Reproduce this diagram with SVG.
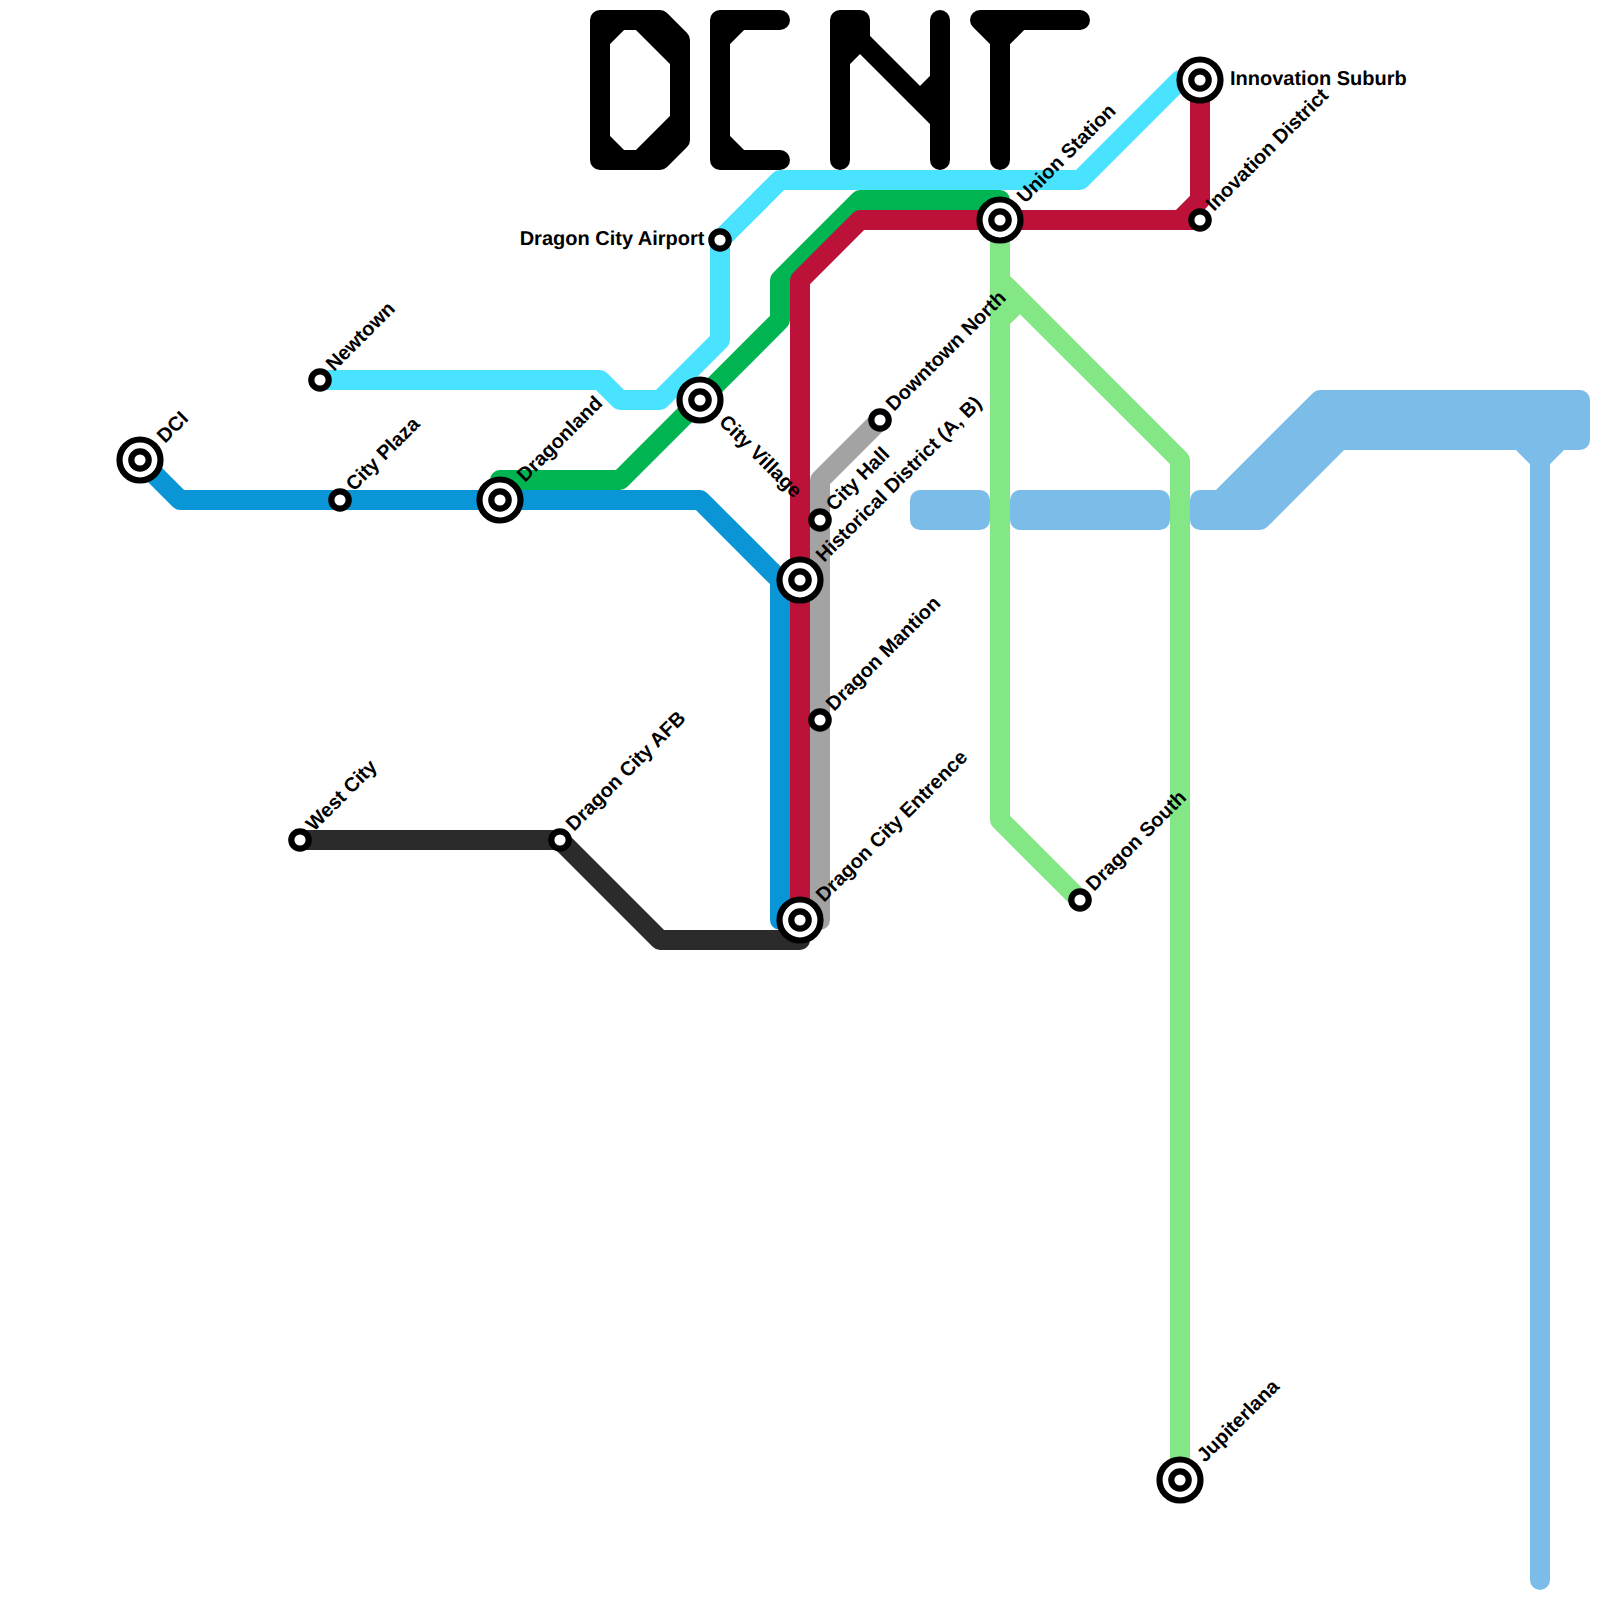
<svg xmlns="http://www.w3.org/2000/svg" width="1600" height="1600" viewBox="0 0 1600 1600">
<style>
.l{fill:none;stroke-width:20;stroke-linejoin:round;stroke-linecap:round}
.b{fill:none;stroke-width:20;stroke-linejoin:round;stroke-linecap:butt}
.k{stroke:#000}.p{stroke:#7bbde8}.c{stroke:#4ae3ff}.g{stroke:#00b451}.r{stroke:#bc1138}.u{stroke:#0a96d6}.y{stroke:#a3a3a3}.d{stroke:#2b2b2b}.m{stroke:#84e786}
.o{fill:#fff;stroke:#000;stroke-width:6.2}
.i{fill:#fff;stroke:#000;stroke-width:6.2}
.pf{fill:#7bbde8}
text{font-family:"Liberation Sans",Arial,sans-serif;font-size:20px;font-weight:700;fill:#000;text-rendering:geometricPrecision}
</style>
<rect width="1600" height="1600" fill="#fff"/>
<g id="logo">
<path class="l k" d="M600 20H660L680 40V140L660 160H600ZM600 40L620 20M640 20L680 60M680 120L640 160M600 140L620 160"/>
<path class="l k" d="M780 20H720V160H780M720 40L740 20M720 140L740 160"/>
<path class="l k" d="M840 160V20H860V40L940 120M840 60L860 40M940 20V160M940 80L920 100"/>
<path class="l k" d="M980 20H1080M980 20L1000 40V160M1000 40L1020 20"/>
</g>
<g id="connectors">
<rect class="pf" x="910" y="490" width="80" height="40" rx="10"/>
<rect class="pf" x="1010" y="490" width="160" height="40" rx="10"/>
<path class="l p" style="fill:#7bbde8" d="M1200 500H1220L1320 400H1580V440H1560L1540 460L1520 440H1340L1260 520H1200Z"/>
<path class="l p" d="M1540 460V1580"/>
<path class="l c" d="M320 380H600L620 400H660L720 340V240L780 180H1080L1180 80H1200"/>
<path class="l g" d="M500 500V480H620L780 320V280L860 200H1000V220"/>
<path class="l u" d="M140 460L180 500H700L780 580V920H800"/>
<path class="l y" d="M880 420L820 480V920H800"/>
<path class="l r" d="M800 920V280L860 220H1200M1200 80V200L1180 220"/>
<path class="l d" d="M300 840H560L660 940H800V920"/>
<path class="b m" d="M1000 220V320L1020 300"/>
<path class="l m" d="M1000 240V820L1080 900"/>
<path class="l m" d="M1000 280L1180 460V1480"/>
</g>
<g id="dci"><circle class="o" cx="140" cy="460" r="20.5"/><circle class="i" cx="140" cy="460" r="8.7"/><text transform="translate(165 444) rotate(-45)">DCI</text></g>
<g id="city-plaza"><circle class="i" cx="340" cy="500" r="8.7"/><text transform="translate(354 492) rotate(-45)">City Plaza</text></g>
<g id="dragonland"><circle class="o" cx="500" cy="500" r="20.5"/><circle class="i" cx="500" cy="500" r="8.7"/><text transform="translate(525 483) rotate(-45)">Dragonland</text></g>
<g id="newtown"><circle class="i" cx="320" cy="380" r="8.7"/><text transform="translate(334 372) rotate(-45)">Newtown</text></g>
<g id="city-village"><circle class="o" cx="700" cy="400" r="20.5"/><circle class="i" cx="700" cy="400" r="8.7"/><text transform="translate(718 423) rotate(45)">City Village</text></g>
<g id="airport"><circle class="i" cx="720" cy="240" r="8.7"/><text x="704.5" y="245" text-anchor="end">Dragon City Airport</text></g>
<g id="union"><circle class="o" cx="1000" cy="220" r="20.5"/><circle class="i" cx="1000" cy="220" r="8.7"/><text transform="translate(1025 204) rotate(-45)">Union Station</text></g>
<g id="innovation-suburb"><circle class="o" cx="1200" cy="80" r="20.5"/><circle class="i" cx="1200" cy="80" r="8.7"/><text x="1230" y="85">Innovation Suburb</text></g>
<g id="inovation-district"><circle class="i" cx="1200" cy="220" r="8.7"/><text transform="translate(1214 212) rotate(-45)">Inovation District</text></g>
<g id="downtown-north"><circle class="i" cx="880" cy="420" r="8.7"/><text transform="translate(894 412) rotate(-45)">Downtown North</text></g>
<g id="city-hall"><circle class="i" cx="820" cy="520" r="8.7"/><text transform="translate(834 512) rotate(-45)">City Hall</text></g>
<g id="historical"><circle class="o" cx="800" cy="580" r="20.5"/><circle class="i" cx="800" cy="580" r="8.7"/><text transform="translate(824 563) rotate(-45)">Historical District (A, B)</text></g>
<g id="dragon-mantion"><circle class="i" cx="820" cy="720" r="8.7"/><text transform="translate(834 712) rotate(-45)">Dragon Mantion</text></g>
<g id="entrence"><circle class="o" cx="800" cy="920" r="20.5"/><circle class="i" cx="800" cy="920" r="8.7"/><text transform="translate(824 903) rotate(-45)">Dragon City Entrence</text></g>
<g id="west-city"><circle class="i" cx="300" cy="840" r="8.7"/><text transform="translate(314 832) rotate(-45)">West City</text></g>
<g id="afb"><circle class="i" cx="560" cy="840" r="8.7"/><text transform="translate(574 832) rotate(-45)">Dragon City AFB</text></g>
<g id="dragon-south"><circle class="i" cx="1080" cy="900" r="8.7"/><text transform="translate(1094 892) rotate(-45)">Dragon South</text></g>
<g id="jupiterlana"><circle class="o" cx="1180" cy="1480" r="20.5"/><circle class="i" cx="1180" cy="1480" r="8.7"/><text transform="translate(1205 1463) rotate(-45)">Jupiterlana</text></g>
</svg>
